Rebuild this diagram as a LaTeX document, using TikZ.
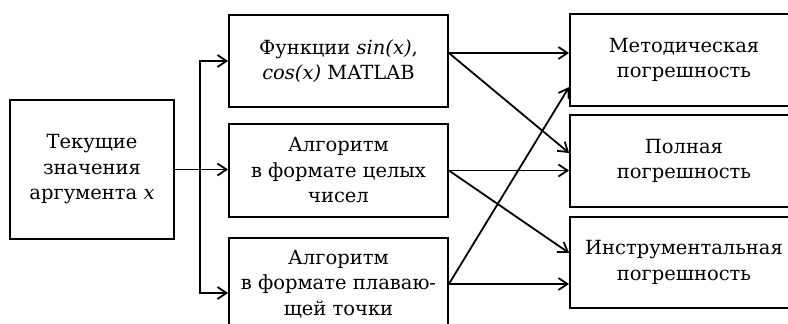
\documentclass[tikz,border=0pt]{standalone}
\usepackage{fontspec}
\setmainfont{DejaVu Serif}
\usetikzlibrary{arrows.meta}

\begin{document}
\begin{tikzpicture}[x=1pt,y=-1pt,
	box/.style={draw,line width=1.8pt,align=center,inner sep=0pt,font=\fontsize{19.5}{25.5}\selectfont},
	arr/.style={line width=1.8pt,-{Straight Barb[length=9pt,width=12pt]}}]

	% frame
	\useasboundingbox (0,0) rectangle (788,324);
	\clip (0,0) rectangle (788,324);

	% input
	\node[box,minimum width=164pt,minimum height=139pt] (cur) at (92,169.5) {Текущие\\значения\\аргумента \textit{x}};

	% algorithms
	\node[box,minimum width=219pt,minimum height=92pt] (fsin) at (338.5,61) {Функции \textit{sin(x)},\\\textit{cos(x)} MATLAB};
	\node[box,minimum width=219pt,minimum height=93pt] (fint) at (338.5,170.5) {Алгоритм\\в формате целых\\чисел};
	\node[box,minimum width=219pt,minimum height=92pt] (ffloat) at (338.5,284) {Алгоритм\\в формате плаваю-\\щей точки};

	% errors
	\node[box,minimum width=228pt,minimum height=92pt] (emeth) at (684,60) {Методическая\\погрешность};
	\node[box,minimum width=228pt,minimum height=92pt] (efull) at (684,161) {Полная\\погрешность};
	\node[box,minimum width=228pt,minimum height=91pt] (einstr) at (684,262.5) {Инструментальная\\погрешность};

	% fork
	\coordinate (fork) at ([xshift=25pt]cur.east);
	\draw[arr] (cur.east) -- (cur.east -| fint.west);
	\draw[arr] (fork) |- (fsin.west);
	\draw[arr] (fork) |- ([yshift=-9pt]ffloat.west);

	% outputs
	\coordinate (osin) at ([yshift=8pt]fsin.east);
	\draw[arr] (osin) -- (osin -| emeth.west);
	\draw[arr] (osin) -- ([yshift=8pt]efull.west);
	\draw[arr] (fint.east) -- (fint.east -| efull.west);
	\draw[arr] (fint.east) -- ([yshift=9.5pt]einstr.west);
	\draw[arr] (ffloat.east) -- (ffloat.east -| einstr.west);
	\draw[arr] (ffloat.east) -- ([yshift=-27pt]emeth.west);

\end{tikzpicture}
\end{document}
